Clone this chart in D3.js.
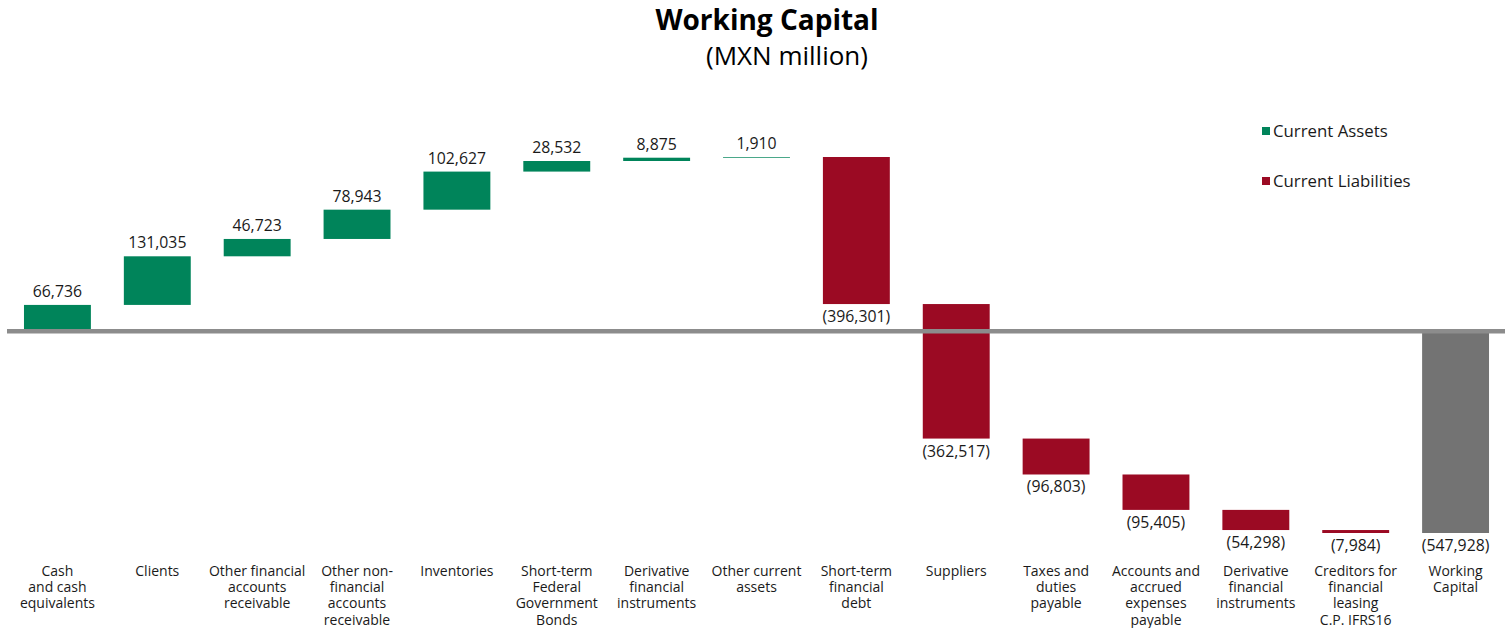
<!DOCTYPE html>
<html>
<head>
<meta charset="utf-8">
<script src="https://cdn.jsdelivr.net/npm/d3@7"></script>
<style>
  html, body { margin: 0; padding: 0; background: #fff; }
  svg { display: block; font-family: "Open Sans", "DejaVu Sans", sans-serif; }
</style>
</head>
<body>
<svg id="chart" width="1510" height="628"></svg>
<script>
// Working capital components (MXN million)
const categories = [
  ["Cash", "and cash", "equivalents"],
  ["Clients"],
  ["Other financial", "accounts", "receivable"],
  ["Other non-", "financial", "accounts", "receivable"],
  ["Inventories"],
  ["Short-term", "Federal", "Government", "Bonds"],
  ["Derivative", "financial", "instruments"],
  ["Other current", "assets"],
  ["Short-term", "financial", "debt"],
  ["Suppliers"],
  ["Taxes and", "duties", "payable"],
  ["Accounts and", "accrued", "expenses", "payable"],
  ["Derivative", "financial", "instruments"],
  ["Creditors for", "financial", "leasing", "C.P. IFRS16"],
  ["Working", "Capital"]
];
const values = [66736, 131035, 46723, 78943, 102627, 28532, 8875, 1910,
                -396301, -362517, -96803, -95405, -54298, -7984, -547928];
const kinds = ["asset", "asset", "asset", "asset", "asset", "asset", "asset", "asset",
               "liability", "liability", "liability", "liability", "liability", "liability", "total"];
const legendItems = [
  { key: "asset", label: "Current Assets" },
  { key: "liability", label: "Current Liabilities" }
];

const colors = { asset: "#00845a", liability: "#9b0a23", total: "#737373" };
const fmt = v => v < 0 ? "(" + d3.format(",")(-v) + ")" : d3.format(",")(v);

// waterfall steps: running total for increments, total bar spans from zero
let run = 0;
const bars = values.map((v, i) => {
  let y0, y1;
  if (kinds[i] === "total") { y0 = 0; y1 = v; }
  else { y0 = run; y1 = run + v; run = y1; }
  return { i, v, kind: kinds[i], lo: Math.min(y0, y1), hi: Math.max(y0, y1), lines: categories[i] };
});

const svg = d3.select("#chart");
const x = d3.scaleBand().domain(d3.range(categories.length)).range([7.5, 1505.5]).paddingInner(0.33).paddingOuter(0.165);
const y = d3.scaleLinear()
  .domain([d3.min(bars, d => d.lo), d3.max(bars, d => d.hi)])
  .range([533, 157]);

// title
svg.append("text").attr("x", 767).attr("y", 30).attr("text-anchor", "middle")
  .attr("font-size", 28).attr("font-weight", 700).attr("fill", "#000").text("Working Capital");
svg.append("text").attr("x", 787).attr("y", 65).attr("text-anchor", "middle")
  .attr("font-size", 26).attr("fill", "#000").text("(MXN million)");

// bars
svg.append("g").selectAll("rect").data(bars).join("rect")
  .attr("x", d => x(d.i))
  .attr("width", x.bandwidth())
  .attr("y", d => y(d.hi))
  .attr("height", d => Math.max(0.5, y(d.lo) - y(d.hi)))
  .attr("fill", d => colors[d.kind]);

// zero line
svg.append("line")
  .attr("x1", 7).attr("x2", 1505)
  .attr("y1", y(0) + 1.5).attr("y2", y(0) + 1.5)
  .attr("stroke", "#8c8c8c").attr("stroke-width", 4.5);

// value labels
svg.append("g").selectAll("text").data(bars).join("text")
  .attr("x", d => x(d.i) + x.bandwidth() / 2)
  .attr("y", d => d.v >= 0 ? y(d.hi) - 8 : y(d.lo) + 18)
  .attr("text-anchor", "middle")
  .attr("font-size", 15.8)
  .attr("fill", "#1a1a1a")
  .text(d => fmt(d.v));

// category labels
const cat = svg.append("g").selectAll("text").data(bars).join("text")
  .attr("text-anchor", "middle")
  .attr("font-size", 14)
  .attr("fill", "#1a1a1a");
cat.selectAll("tspan").data(d => d.lines.map(l => ({ l, cx: x(d.i) + x.bandwidth() / 2 }))).join("tspan")
  .attr("x", d => d.cx)
  .attr("y", (d, j) => 576 + j * 16.2)
  .text(d => d.l);

// legend
const lg = svg.append("g").selectAll("g").data(legendItems).join("g")
  .attr("transform", (d, i) => `translate(1262, ${127 + i * 50})`);
lg.append("rect").attr("width", 8).attr("height", 8).attr("fill", d => colors[d.key]);
lg.append("text").attr("x", 11).attr("y", 9.5).attr("font-size", 16.8).attr("fill", "#1a1a1a").text(d => d.label);
</script>
</body>
</html>
